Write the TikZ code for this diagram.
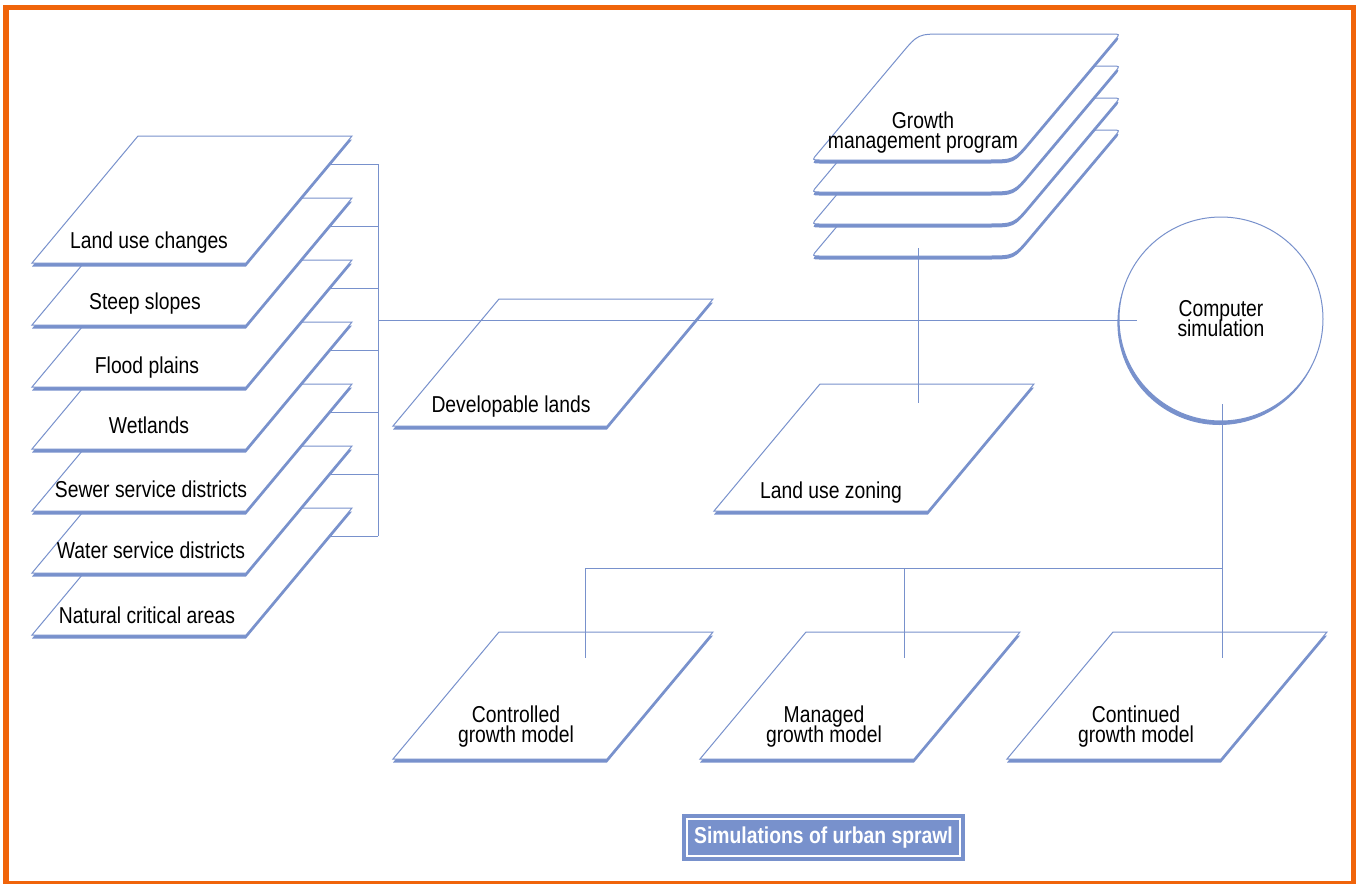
\documentclass[tikz,border=0pt]{standalone}
\usepackage{fontspec}
\setmainfont{Liberation Sans}[FakeStretch=0.84]

\definecolor{sprawlblue}{RGB}{120,145,204}
\definecolor{frameorange}{RGB}{240,100,10}

\newcommand{\labelfont}{\fontsize{11.5}{10}\selectfont\lineskiplimit=-10pt\relax}

\tikzset{
  sheet/.style={draw=sprawlblue, fill=white, line width=0.5pt,
    preaction={fill=sprawlblue, transform canvas={yshift=-1.75pt}}},
  link/.style={draw=sprawlblue, line width=0.5pt},
  lbl/.style={anchor=base, inner sep=0pt, align=center, font=\labelfont},
  simcircle/.style={circle, draw=sprawlblue, fill=white, line width=0.5pt,
    minimum size=102pt, inner sep=0pt, align=center, font=\labelfont,
    preaction={fill=sprawlblue, transform canvas={xshift=-0.8pt,yshift=-2pt}}},
  titlebox/.style={fill=sprawlblue, draw=white, line width=0.6pt,
    minimum width=136.5pt, minimum height=18.5pt, inner sep=0pt, text=white,
    font=\fontsize{11.5}{12}\selectfont\bfseries,
    preaction={draw=sprawlblue, line width=5pt}},
}

% one flat map sheet, lower left corner at (#2,#3)
\newcommand{\sheetat}[3]{%
  \draw[sheet] (#2,#3) -- ++(214,0) -- ++(106,-127) -- ++(-214,0) -- cycle;
  \coordinate (#1-r) at (#2+297,#3-99);
}
% one card of the program stack, moved down by #1
\newcommand{\cardat}[1]{%
  \draw[sheet, shift={(0,#1)}] (820,160) -- (988,160) .. controls (1014,160) .. (1030.7,140.1)
    -- (1114.8,40.1) .. controls (1120,34) .. (1112,34)
    -- (944,34) .. controls (918,34) .. (901.3,53.9)
    -- (817.2,153.9) .. controls (812,160) .. (820,160) -- cycle;
}

\begin{document}
\begin{tikzpicture}[x=0.5pt,y=-0.5pt]
  \useasboundingbox (0,0) rectangle (1356,884);
  \draw[frameorange, line width=2.75pt] (6,7.5) rectangle (1353.5,883.5);

  % left stack, back to front
  \sheetat{nca}{32}{635}
  \sheetat{wsd}{32}{573}
  \sheetat{ssd}{32}{511}
  \sheetat{wet}{32}{449}
  \sheetat{flood}{32}{387}
  \sheetat{steep}{32}{325}
  \sheetat{luc}{32}{263}
  \node[lbl] (luc) at (149,248) {Land use changes};
  \node[lbl] (steep) at (145,309) {Steep slopes};
  \node[lbl] (flood) at (147,373) {Flood plains};
  \node[lbl] (wet) at (149,433) {Wetlands};
  \node[lbl] (ssd) at (151,497) {Sewer service districts};
  \node[lbl] (wsd) at (151,558) {Water service districts};
  \node[lbl] (nca) at (147,623) {Natural critical areas};

  \coordinate (bus) at (378,320);
  \draw[link] (luc-r) -- (luc-r -| bus);
  \draw[link] (steep-r) -- (steep-r -| bus);
  \draw[link] (flood-r) -- (flood-r -| bus);
  \draw[link] (wet-r) -- (wet-r -| bus);
  \draw[link] (ssd-r) -- (ssd-r -| bus);
  \draw[link] (wsd-r) -- (wsd-r -| bus);
  \draw[link] (nca-r) -- (nca-r -| bus);
  \draw[link] (luc-r -| bus) -- (nca-r -| bus);

  \sheetat{dev}{393}{426}
  \node[lbl] (dev) at (511,412) {Developable lands};

  % growth management program
  \cardat{96}
  \cardat{64}
  \cardat{32}
  \cardat{0}
  \node[lbl] (gmp) at (923,148) {Growth\\management program};

  \sheetat{luz}{714}{511}
  \node[lbl] (luz) at (831,498) {Land use zoning};
  \coordinate (gmp-foot) at (918,248);
  \coordinate (luz-in) at (918,403);
  \draw[link] (gmp-foot) -- (luz-in);

  \node[simcircle] (sim) at (1221,319) {Computer\\simulation};
  \coordinate (sim-in) at (1137,320);
  \draw[link] (bus) -- (sim-in);

  % growth models
  \sheetat{cgm}{393}{759}
  \sheetat{mgm}{700}{759}
  \sheetat{ngm}{1007}{759}
  \node[lbl] (cgm) at (516,742) {Controlled\\growth model};
  \node[lbl] (mgm) at (824,742) {Managed\\growth model};
  \node[lbl] (ngm) at (1136,742) {Continued\\growth model};

  \coordinate (sim-foot) at (1222,404);
  \coordinate (split) at (1222,568);
  \coordinate (cgm-in) at (585,658);
  \coordinate (mgm-in) at (904,658);
  \coordinate (ngm-in) at (1222,658);
  \draw[link] (sim-foot) -- (ngm-in);
  \draw[link] (split) -- (split -| cgm-in) -- (cgm-in);
  \draw[link] (split -| mgm-in) -- (mgm-in);

  \node[titlebox] (title) at (823.5,837.5) {Simulations of urban sprawl};
\end{tikzpicture}
\end{document}
